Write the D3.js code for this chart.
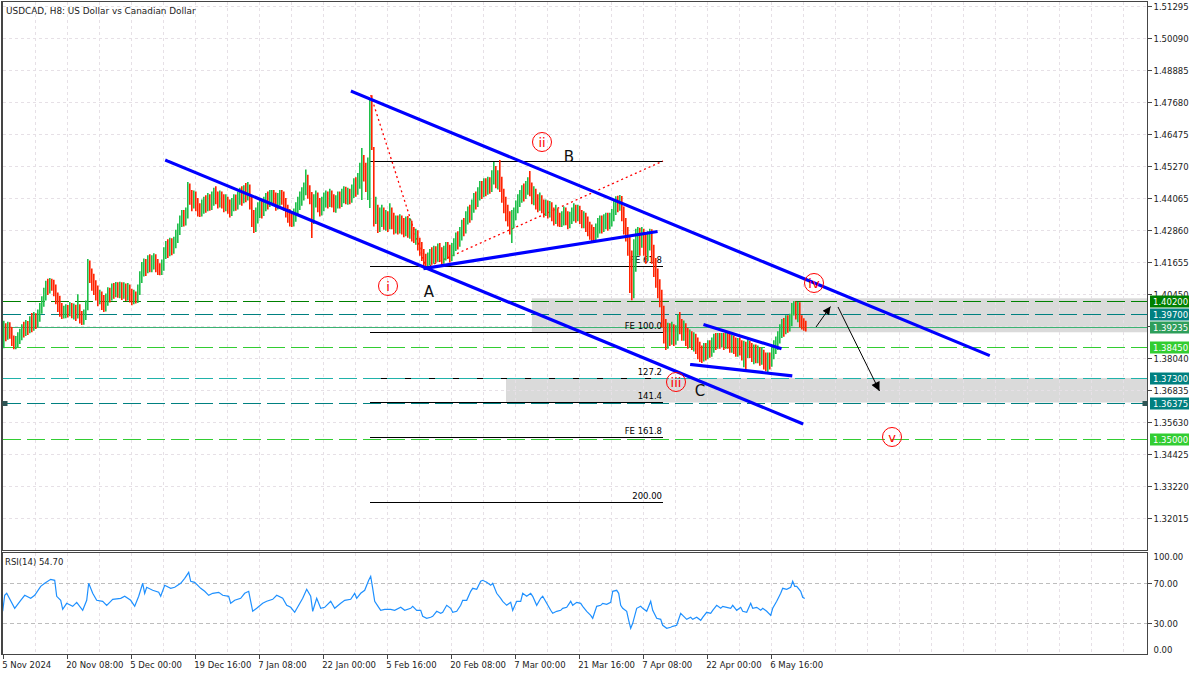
<!DOCTYPE html>
<html>
<head>
<meta charset="utf-8">
<script src="https://cdn.jsdelivr.net/npm/d3@7/dist/d3.min.js"></script>
<style>
html,body{margin:0;padding:0;background:#fff;}
svg{display:block;}
text{font-family:"DejaVu Sans",sans-serif;}
</style>
</head>
<body>
<svg id="chart" width="1200" height="675"></svg>
<script>
// ---------------- DATA ----------------
const title = "USDCAD, H8:  US Dollar vs Canadian Dollar";
const timeLabels = ["5 Nov 2024","20 Nov 08:00","5 Dec 00:00","19 Dec 16:00","7 Jan 08:00","22 Jan 00:00","5 Feb 16:00","20 Feb 08:00","7 Mar 00:00","21 Mar 16:00","7 Apr 08:00","22 Apr 00:00","6 May 16:00"];
const timeLabelBars = [0,32,64,96,128,160,192,224,256,288,320,352,384];
const priceTicks = [1.51295,1.50090,1.48885,1.47680,1.46475,1.45270,1.44065,1.42860,1.41655,1.40450,1.39245,1.38040,1.36835,1.35630,1.34425,1.33220,1.32015];
const rsiTicks = [100,70,30,0];
const rsiLevels = [70,30];
const rsiCurrent = 54.70;

const firstOpen = 1.3880;
const closes = [
1.3910,1.3895,1.3915,1.3900,1.3870,1.3850,1.3865,1.3880,1.3895,1.3910,
1.3905,1.3925,1.3915,1.3935,1.3925,1.3955,1.3940,1.3960,1.3990,1.4015,
1.4040,1.4075,1.4065,1.4090,1.4080,1.4060,1.4030,1.4000,1.3985,1.3965,
1.3975,1.3985,1.3980,1.3995,1.3980,1.3990,1.3970,1.3985,1.3960,1.3940,
1.3965,1.3990,1.4150,1.4120,1.4090,1.4070,1.4050,1.4030,1.4035,1.4010,
1.3995,1.4020,1.4045,1.4040,1.4060,1.4055,1.4075,1.4060,1.4070,1.4050,
1.4065,1.4045,1.4060,1.4040,1.4020,1.4035,1.4025,1.4060,1.4110,1.4140,
1.4150,1.4140,1.4165,1.4150,1.4165,1.4175,1.4155,1.4135,1.4125,1.4150,
1.4195,1.4215,1.4210,1.4230,1.4220,1.4240,1.4260,1.4290,1.4320,1.4335,
1.4325,1.4345,1.4440,1.4410,1.4390,1.4410,1.4385,1.4360,1.4350,1.4375,
1.4390,1.4380,1.4400,1.4385,1.4405,1.4420,1.4410,1.4395,1.4410,1.4400,
1.4380,1.4395,1.4375,1.4360,1.4380,1.4395,1.4385,1.4405,1.4420,1.4405,
1.4430,1.4420,1.4445,1.4390,1.4330,1.4305,1.4345,1.4360,1.4375,1.4355,
1.4385,1.4400,1.4390,1.4415,1.4425,1.4405,1.4385,1.4400,1.4420,1.4410,
1.4385,1.4360,1.4340,1.4320,1.4310,1.4340,1.4365,1.4390,1.4405,1.4420,
1.4440,1.4470,1.4430,1.4410,1.4330,1.4395,1.4410,1.4380,1.4365,1.4385,
1.4400,1.4410,1.4395,1.4415,1.4400,1.4380,1.4390,1.4405,1.4395,1.4415,
1.4425,1.4410,1.4420,1.4410,1.4430,1.4450,1.4440,1.4470,1.4490,1.4540,
1.4510,1.4490,1.4520,1.4760,1.4600,1.4340,1.4350,1.4310,1.4330,1.4345,
1.4320,1.4335,1.4310,1.4335,1.4320,1.4300,1.4315,1.4300,1.4320,1.4295,
1.4290,1.4310,1.4285,1.4295,1.4270,1.4250,1.4265,1.4235,1.4215,1.4195,
1.4170,1.4160,1.4175,1.4190,1.4180,1.4200,1.4190,1.4210,1.4195,1.4180,
1.4200,1.4215,1.4205,1.4190,1.4210,1.4230,1.4250,1.4240,1.4270,1.4300,
1.4290,1.4330,1.4350,1.4340,1.4375,1.4400,1.4390,1.4420,1.4445,1.4430,
1.4455,1.4440,1.4460,1.4450,1.4480,1.4510,1.4470,1.4480,1.4460,1.4420,
1.4380,1.4350,1.4330,1.4300,1.4320,1.4345,1.4370,1.4395,1.4410,1.4430,
1.4420,1.4445,1.4460,1.4440,1.4410,1.4420,1.4395,1.4380,1.4395,1.4375,
1.4360,1.4375,1.4355,1.4370,1.4350,1.4330,1.4345,1.4325,1.4310,1.4325,
1.4340,1.4330,1.4315,1.4330,1.4345,1.4360,1.4340,1.4350,1.4335,1.4320,
1.4330,1.4310,1.4290,1.4280,1.4265,1.4260,1.4285,1.4300,1.4315,1.4300,
1.4320,1.4325,1.4310,1.4325,1.4340,1.4370,1.4390,1.4385,1.4400,1.4350,
1.4300,1.4270,1.4250,1.4100,1.4060,1.4150,1.4230,1.4260,1.4240,1.4270,
1.4230,1.4200,1.4245,1.4270,1.4200,1.4150,1.4110,1.4070,1.4030,1.3960,
1.3900,1.3870,1.3905,1.3890,1.3910,1.3885,1.3900,1.3940,1.3925,1.3900,
1.3915,1.3890,1.3870,1.3885,1.3865,1.3875,1.3850,1.3835,1.3820,1.3810,
1.3835,1.3820,1.3840,1.3830,1.3855,1.3870,1.3860,1.3880,1.3870,1.3885,
1.3865,1.3880,1.3870,1.3850,1.3865,1.3850,1.3835,1.3855,1.3840,1.3825,
1.3840,1.3830,1.3850,1.3835,1.3815,1.3830,1.3815,1.3825,1.3805,1.3815,
1.3795,1.3785,1.3800,1.3790,1.3820,1.3845,1.3860,1.3880,1.3905,1.3925,
1.3915,1.3935,1.3925,1.3945,1.3990,1.4010,1.3975,1.3995,1.3940,1.3935,
1.3925,1.3922];
const highs = [
1.3945,1.3936,1.3942,1.3940,1.3922,1.3890,1.3888,1.3902,1.3915,1.3932,
1.3942,1.3948,1.3944,1.3962,1.3975,1.3978,1.3974,1.3988,1.4012,1.4038,
1.4070,1.4096,1.4104,1.4106,1.4104,1.4100,1.4082,1.4052,1.4040,1.4012,
1.4002,1.4008,1.4005,1.4016,1.4012,1.4010,1.4006,1.4045,1.4008,1.3982,
1.3988,1.4022,1.4178,1.4172,1.4142,1.4122,1.4098,1.4078,1.4062,1.4056,
1.4042,1.4048,1.4072,1.4070,1.4086,1.4088,1.4091,1.4090,1.4092,1.4090,
1.4090,1.4086,1.4088,1.4082,1.4066,1.4062,1.4056,1.4082,1.4132,1.4167,
1.4180,1.4178,1.4192,1.4196,1.4192,1.4200,1.4196,1.4178,1.4162,1.4176,
1.4222,1.4246,1.4252,1.4258,1.4256,1.4262,1.4288,1.4312,1.4342,1.4362,
1.4362,1.4372,1.4468,1.4462,1.4438,1.4436,1.4432,1.4408,1.4388,1.4402,
1.4412,1.4418,1.4426,1.4422,1.4432,1.4446,1.4452,1.4432,1.4436,1.4432,
1.4422,1.4422,1.4412,1.4402,1.4408,1.4422,1.4421,1.4432,1.4446,1.4452,
1.4456,1.4464,1.4468,1.4458,1.4412,1.4362,1.4372,1.4392,1.4402,1.4398,
1.4412,1.4426,1.4432,1.4438,1.4438,1.4438,1.4428,1.4426,1.4438,1.4438,
1.4432,1.4408,1.4382,1.4366,1.4352,1.4368,1.4392,1.4412,1.4432,1.4448,
1.4466,1.4515,1.4495,1.4456,1.4430,1.4422,1.4436,1.4428,1.4408,1.4412,
1.4428,1.4436,1.4432,1.4442,1.4436,1.4422,1.4418,1.4432,1.4432,1.4442,
1.4452,1.4450,1.4446,1.4442,1.4458,1.4482,1.4486,1.4502,1.4540,1.4596,
1.4570,1.4540,1.4560,1.4784,1.4795,1.4600,1.4412,1.4382,1.4372,1.4382,
1.4372,1.4362,1.4358,1.4388,1.4372,1.4352,1.4342,1.4342,1.4346,1.4342,
1.4332,1.4338,1.4340,1.4332,1.4322,1.4298,1.4292,1.4286,1.4258,1.4242,
1.4216,1.4198,1.4202,1.4216,1.4222,1.4228,1.4226,1.4236,1.4238,1.4222,
1.4228,1.4242,1.4242,1.4232,1.4238,1.4256,1.4278,1.4282,1.4298,1.4326,
1.4332,1.4358,1.4376,1.4382,1.4402,1.4426,1.4432,1.4448,1.4472,1.4472,
1.4482,1.4482,1.4488,1.4486,1.4512,1.4543,1.4528,1.4512,1.4551,1.4488,
1.4442,1.4412,1.4382,1.4358,1.4362,1.4372,1.4398,1.4422,1.4438,1.4456,
1.4462,1.4472,1.4486,1.4509,1.4466,1.4452,1.4442,1.4422,1.4428,1.4418,
1.4402,1.4402,1.4398,1.4396,1.4392,1.4372,1.4382,1.4368,1.4352,1.4358,
1.4376,1.4372,1.4358,1.4356,1.4372,1.4388,1.4382,1.4382,1.4378,1.4362,
1.4358,1.4352,1.4338,1.4318,1.4308,1.4298,1.4312,1.4332,1.4342,1.4342,
1.4346,1.4352,1.4352,1.4352,1.4366,1.4396,1.4414,1.4416,1.4419,1.4415,
1.4376,1.4332,1.4298,1.4265,1.4210,1.4252,1.4292,1.4298,1.4296,1.4298,
1.4292,1.4272,1.4282,1.4292,1.4290,1.4232,1.4182,1.4142,1.4102,1.4062,
1.4002,1.3952,1.3938,1.3936,1.3942,1.3932,1.3928,1.3970,1.3978,1.3952,
1.3946,1.3936,1.3918,1.3912,1.3906,1.3902,1.3896,1.3882,1.3866,1.3852,
1.3862,1.3862,1.3872,1.3872,1.3882,1.3896,1.3899,1.3899,1.3899,1.3899,
1.3899,1.3899,1.3899,1.3896,1.3892,1.3890,1.3882,1.3880,1.3882,1.3872,
1.3870,1.3866,1.3876,1.3870,1.3862,1.3856,1.3856,1.3852,1.3846,1.3846,
1.3836,1.3826,1.3826,1.3826,1.3846,1.3872,1.3886,1.3906,1.3932,1.3952,
1.3956,1.3966,1.3966,1.3972,1.4012,1.4020,1.4018,1.4016,1.4015,1.3966,
1.3955,1.3945];
const lows = [
1.3842,1.3868,1.3874,1.3878,1.3850,1.3838,1.3838,1.3846,1.3858,1.3872,
1.3882,1.3888,1.3892,1.3898,1.3902,1.3908,1.3914,1.3922,1.3942,1.3972,
1.3998,1.4022,1.4042,1.4048,1.4058,1.4038,1.4008,1.3978,1.3960,1.3952,
1.3954,1.3955,1.3958,1.3962,1.3955,1.3950,1.3944,1.3954,1.3935,1.3929,
1.3930,1.3948,1.3985,1.4088,1.4058,1.4042,1.4022,1.4000,1.4008,1.3986,
1.3978,1.3980,1.4002,1.4014,1.4022,1.4028,1.4034,1.4032,1.4030,1.4024,
1.4028,1.4020,1.4022,1.4014,1.4004,1.4008,1.4010,1.4012,1.4042,1.4088,
1.4112,1.4114,1.4124,1.4128,1.4128,1.4138,1.4128,1.4118,1.4117,1.4118,
1.4134,1.4178,1.4182,1.4188,1.4192,1.4198,1.4218,1.4238,1.4268,1.4298,
1.4300,1.4304,1.4330,1.4382,1.4358,1.4368,1.4358,1.4338,1.4336,1.4338,
1.4348,1.4352,1.4358,1.4360,1.4362,1.4378,1.4384,1.4368,1.4372,1.4368,
1.4354,1.4358,1.4348,1.4334,1.4340,1.4358,1.4360,1.4364,1.4382,1.4378,
1.4388,1.4392,1.4398,1.4364,1.4298,1.4276,1.4280,1.4312,1.4332,1.4330,
1.4340,1.4358,1.4364,1.4374,1.4388,1.4378,1.4360,1.4364,1.4378,1.4382,
1.4360,1.4334,1.4314,1.4300,1.4298,1.4300,1.4318,1.4344,1.4362,1.4378,
1.4398,1.4418,1.4405,1.4384,1.4257,1.4310,1.4372,1.4354,1.4338,1.4342,
1.4358,1.4372,1.4368,1.4374,1.4372,1.4354,1.4352,1.4368,1.4368,1.4374,
1.4388,1.4384,1.4382,1.4384,1.4390,1.4408,1.4412,1.4420,1.4442,1.4400,
1.4470,1.4430,1.4400,1.4370,1.4588,1.4300,1.4310,1.4276,1.4280,1.4298,
1.4288,1.4284,1.4280,1.4290,1.4290,1.4270,1.4274,1.4270,1.4274,1.4270,
1.4260,1.4264,1.4258,1.4254,1.4244,1.4238,1.4232,1.4210,1.4190,1.4170,
1.4150,1.4148,1.4150,1.4154,1.4156,1.4160,1.4164,1.4168,1.4170,1.4155,
1.4160,1.4172,1.4178,1.4165,1.4170,1.4188,1.4208,1.4214,1.4224,1.4248,
1.4264,1.4274,1.4308,1.4314,1.4324,1.4352,1.4364,1.4374,1.4398,1.4404,
1.4410,1.4414,1.4420,1.4424,1.4430,1.4458,1.4444,1.4440,1.4430,1.4390,
1.4350,1.4320,1.4300,1.4270,1.4238,1.4294,1.4324,1.4350,1.4374,1.4390,
1.4394,1.4404,1.4420,1.4414,1.4384,1.4380,1.4364,1.4354,1.4360,1.4350,
1.4334,1.4340,1.4330,1.4334,1.4320,1.4304,1.4310,1.4300,1.4298,1.4298,
1.4304,1.4305,1.4290,1.4294,1.4310,1.4320,1.4314,1.4320,1.4310,1.4294,
1.4294,1.4280,1.4264,1.4250,1.4244,1.4242,1.4244,1.4258,1.4274,1.4274,
1.4280,1.4290,1.4284,1.4290,1.4300,1.4320,1.4344,1.4354,1.4360,1.4320,
1.4270,1.4244,1.4190,1.4050,1.4023,1.4030,1.4130,1.4190,1.4190,1.4220,
1.4190,1.4160,1.4170,1.4210,1.4160,1.4110,1.4070,1.4030,1.3996,1.3920,
1.3860,1.3835,1.3840,1.3850,1.3855,1.3850,1.3855,1.3870,1.3895,1.3870,
1.3870,1.3850,1.3840,1.3845,1.3835,1.3830,1.3820,1.3800,1.3790,1.3786,
1.3792,1.3796,1.3800,1.3806,1.3810,1.3825,1.3835,1.3840,1.3840,1.3845,
1.3835,1.3840,1.3840,1.3825,1.3825,1.3820,1.3810,1.3810,1.3815,1.3796,
1.3770,1.3760,1.3805,1.3805,1.3790,1.3782,1.3785,1.3785,1.3776,1.3780,
1.3762,1.3755,1.3752,1.3762,1.3772,1.3800,1.3820,1.3835,1.3860,1.3880,
1.3885,1.3895,1.3900,1.3905,1.3925,1.3965,1.3950,1.3940,1.3920,1.3912,
1.3908,1.3905];

const rsiBars = [0,1,2,6,9,11,14,16,19,21,
 24,26,27,29,30,32,35,37,40,42,
 43,45,47,50,52,54,55,59,61,64,
 66,68,70,71,72,75,78,79,81,84,
 86,89,91,93,94,96,99,101,103,105,
 108,110,113,114,116,119,121,123,124,125,
 127,130,132,135,137,140,142,144,146,148,
 150,152,154,155,157,159,161,164,166,169,
 171,174,176,177,179,181,183,184,185,186,
 188,189,191,194,196,199,201,204,205,207,
 209,210,212,214,215,217,219,220,222,224,
 225,227,229,230,232,234,235,237,239,240,
 242,244,245,247,249,250,252,254,255,257,
 259,260,262,264,265,267,269,270,272,274,
 275,277,279,280,282,284,285,287,289,290,
 292,294,295,297,299,300,302,304,305,307,
 308,309,310,312,313,314,315,317,319,320,
 322,324,325,327,329,330,332,334,335,337,
 339,340,342,344,345,347,349,350,352,354,
 355,357,359,360,362,364,365,367,369,370,
 372,374,375,377,379,380,382,384,385,387,
 389,390,392,394,395,396,397,399,400,401];
const rsiValues = [42,58,60,45,53,58,55,58,67,70,
 74,73,57,53,44,50,47,51,43,53,
 70,60,53,52,48,52,54,55,57,53,
 47,57,70,60,66,63,61,57,68,65,
 66,70,75,81,72,71,65,62,58,60,
 61,58,57,50,53,55,60,62,52,42,
 45,50,52,54,58,55,48,46,41,48,
 55,64,57,42,55,45,46,52,45,50,
 53,54,60,55,60,63,73,77,65,52,
 46,43,44,44,43,46,43,45,47,43,
 43,37,35,36,37,42,40,41,48,45,
 41,42,48,53,53,62,65,64,72,73,
 71,68,70,60,55,52,48,51,43,52,
 52,60,57,60,57,48,55,57,50,43,
 40,42,43,45,46,52,48,51,50,47,
 42,38,35,47,48,50,49,51,62,63,
 60,48,45,42,33,25,30,45,47,45,
 42,52,43,35,34,28,25,26,27,28,
 40,38,34,36,34,36,33,36,41,40,
 43,48,45,47,46,45,48,43,46,42,
 41,50,45,46,43,45,42,38,45,52,
 60,65,64,66,72,67,67,62,56,54.7];

// horizontal price levels (right-axis tags)
const levelPrices = [1.40200,1.39700,1.39235,1.38450,1.37300,1.36375,1.35000];
// shaded zones
const zoneStartBars = [264.6,251.65];
const zoneTops = [1.40300,1.37300];
const zoneBottoms = [1.39020,1.36375];
// trend lines (bar index, price)
const trendStarts = [[174.85,1.48079],[82.0,1.45481],[211.15,1.41429],[351.15,1.39294],[344.5,1.37799]];
const trendEnds = [[492.8,1.38164],[399.5,1.35592],[326.65,1.42807],[388.65,1.38417],[394.0,1.37385]];
// fibonacci expansion
const fiboLevels = [1.4547,1.4152,1.3902,1.3730,1.3638,1.3506,1.3262];
const fiboLabels = ["","FE 61.8","FE 100.0","127.2","141.4","FE 161.8","200.00"];
const fiboFromBar = 183.65, fiboToBar = 330.15;
const fiboPoints = [[184.0,1.4795],[211.65,1.4146],[330.15,1.4547]];
// wave labels
const waveLabels = ["i","ii","iii","iv","v"];
const waveBars = [192.65,269.65,336.65,405.65,444.65];
const wavePrices = [1.40763,1.46185,1.37148,1.40876,1.35077];
const letterLabels = ["A","B","C"];
const letterBars = [213.15,283.15,348.65];
const letterPrices = [1.40537,1.45620,1.36809];
// arrows
const arrowStarts = [[406.65,1.39218],[417.65,1.39972]];
const arrowEnds = [[413.9,1.39990],[438.4,1.36809]];

// ---------------- STYLES ----------------
const levelStroke = ["#008000","#008080","#3cb371","#32cd32","#20b2aa","#008080","#32cd32"];
const levelTagFill = ["#008000","#008080","#2e9e5b","#32cd32","#008080","#008080","#32cd32"];
const levelSolid = [false,false,true,false,false,false,false];
const upColor = "#1fbf4a", downColor = "#ff2200";
const gridColor = "#e6e0e6";
const frameColor = "#454545";
const fs = "8.5px";

// ---------------- SCALES ----------------
const svg = d3.select("#chart");
const L = 2.5, R = 1147.5, mainT = 1.5, mainB = 550.5, rsiT = 552.5, rsiB = 654.5;
const x = d3.scaleLinear().domain([0, 572]).range([2.7, 2.7 + 2*572]);
const y = d3.scaleLinear().domain([1.32015, 1.51295]).range([518.3, 6.3]);
const yr = d3.scaleLinear().domain([0, 100]).range([653.3, 553.3]);
const px = v => Math.round(v) + 0.5;

svg.append("rect").attr("width",1200).attr("height",675).attr("fill","#fff");

const defs = svg.append("defs");
defs.append("clipPath").attr("id","clipMain").append("rect").attr("x",L).attr("y",mainT).attr("width",R-L).attr("height",mainB-mainT);
defs.append("clipPath").attr("id","clipRsi").append("rect").attr("x",L).attr("y",rsiT).attr("width",R-L).attr("height",rsiB-rsiT);
defs.append("marker").attr("id","ahSmall").attr("viewBox","0 0 10 10").attr("refX",10).attr("refY",5)
  .attr("markerUnits","userSpaceOnUse").attr("markerWidth",10).attr("markerHeight",8).attr("orient","auto")
  .append("path").attr("d","M0,0 L10,5 L0,10 Z").attr("fill","#000");
defs.append("marker").attr("id","ahBig").attr("viewBox","0 0 10 10").attr("refX",10).attr("refY",5)
  .attr("markerUnits","userSpaceOnUse").attr("markerWidth",12).attr("markerHeight",9).attr("orient","auto")
  .append("path").attr("d","M0,0 L10,5 L0,10 Z").attr("fill","#000");

const main = svg.append("g").attr("clip-path","url(#clipMain)");
const rsiG = svg.append("g").attr("clip-path","url(#clipRsi)");

// zones
main.selectAll(".zone").data(zoneStartBars).join("rect")
  .attr("x",d=>x(d)).attr("width",(d)=>R-x(d))
  .attr("y",(d,i)=>y(zoneTops[i])).attr("height",(d,i)=>y(zoneBottoms[i])-y(zoneTops[i]))
  .attr("fill","#dadada");

// grid
const gridBars = d3.range(16, 572, 16);
[main, rsiG].forEach((g,k)=>{
  g.selectAll(".vg").data(gridBars).join("line")
    .attr("x1",d=>px(x(d))).attr("x2",d=>px(x(d)))
    .attr("y1",k?rsiT:mainT).attr("y2",k?rsiB:mainB)
    .attr("stroke",gridColor).attr("stroke-dasharray","3,3").attr("shape-rendering","crispEdges");
});
main.selectAll(".hg").data(priceTicks).join("line")
  .attr("x1",L).attr("x2",R).attr("y1",d=>px(y(d))).attr("y2",d=>px(y(d)))
  .attr("stroke",gridColor).attr("stroke-dasharray","3,3").attr("shape-rendering","crispEdges");

// fibo lines (under level lines)
main.selectAll(".fibo").data(fiboLevels).join("line")
  .attr("x1",x(fiboFromBar)).attr("x2",x(fiboToBar))
  .attr("y1",d=>px(y(d))).attr("y2",d=>px(y(d)))
  .attr("stroke","#000").attr("stroke-width",1).attr("shape-rendering","crispEdges");

// level lines
main.selectAll(".lvl").data(levelPrices).join("line")
  .attr("x1",L).attr("x2",R).attr("y1",d=>px(y(d))).attr("y2",d=>px(y(d)))
  .attr("stroke",(d,i)=>levelStroke[i]).attr("stroke-width",1).attr("shape-rendering","crispEdges")
  .attr("stroke-dasharray",(d,i)=>levelSolid[i]?null:"18,6");

// fibo labels
main.selectAll(".fibot").data(fiboLevels).join("text")
  .attr("x",x(fiboToBar)-1).attr("y",d=>y(d)-3)
  .attr("text-anchor","end").attr("font-size",fs).attr("fill","#000")
  .text((d,i)=>fiboLabels[i]);

// red dotted fibo path
main.append("path").attr("d",d3.line().x(d=>x(d[0])).y(d=>y(d[1]))(fiboPoints))
  .attr("fill","none").attr("stroke","#ff0000").attr("stroke-width",1.3).attr("stroke-dasharray","2,3");

// price bars (high-low stems)
const opens = closes.map((c,i)=> i===0 ? firstOpen : closes[i-1]);
main.selectAll(".bar").data(closes).join("line")
  .attr("x1",(d,i)=>Math.round(x(i))+0.8).attr("x2",(d,i)=>Math.round(x(i))+0.8)
  .attr("y1",(d,i)=>y(Math.max(highs[i],opens[i],d))).attr("y2",(d,i)=>y(Math.min(lows[i],opens[i],d)))
  .attr("stroke",(d,i)=> d>=opens[i]?upColor:downColor).attr("stroke-width",1.6);

// trend lines
main.selectAll(".trend").data(trendStarts).join("line")
  .attr("x1",d=>x(d[0])).attr("y1",d=>y(d[1]))
  .attr("x2",(d,i)=>x(trendEnds[i][0])).attr("y2",(d,i)=>y(trendEnds[i][1]))
  .attr("stroke","#0000ff").attr("stroke-width",3.2).attr("stroke-linecap","square");

// wave circles
const wg = main.selectAll(".wave").data(waveLabels).join("g")
  .attr("transform",(d,i)=>`translate(${x(waveBars[i])},${y(wavePrices[i])})`);
wg.append("circle").attr("r",9.5).attr("fill","none").attr("stroke","#ff0000").attr("stroke-width",1);
wg.append("text").attr("text-anchor","middle").attr("dy","0.36em").attr("font-size","13px")
  .attr("fill","#ff0000").text(d=>d);

// letters
main.selectAll(".letter").data(letterLabels).join("text")
  .attr("x",(d,i)=>x(letterBars[i])).attr("y",(d,i)=>y(letterPrices[i]))
  .attr("dy","0.36em").attr("text-anchor","middle").attr("font-size","15px").attr("fill","#111").text(d=>d);

// arrows
main.selectAll(".arrow").data(arrowStarts).join("line")
  .attr("x1",d=>x(d[0])).attr("y1",d=>y(d[1]))
  .attr("x2",(d,i)=>x(arrowEnds[i][0])).attr("y2",(d,i)=>y(arrowEnds[i][1]))
  .attr("stroke","#000").attr("stroke-width",1)
  .attr("marker-end",(d,i)=> i===0?"url(#ahSmall)":"url(#ahBig)");

// ---- RSI ----
rsiG.selectAll(".rl").data(rsiLevels).join("line")
  .attr("x1",L).attr("x2",R).attr("y1",d=>px(yr(d))).attr("y2",d=>px(yr(d)))
  .attr("stroke","#bdbdbd").attr("stroke-dasharray","4,3").attr("shape-rendering","crispEdges");
rsiG.append("path").attr("d",d3.line().x(d=>x(d)).y((d,i)=>yr(rsiValues[i]))(rsiBars))
  .attr("fill","none").attr("stroke","#1e90ff").attr("stroke-width",1.2);
svg.append("text").attr("x",5).attr("y",565).attr("font-size",fs).attr("fill","#222")
  .text(`RSI(14) ${rsiCurrent.toFixed(2)}`);

// ---- frames ----
svg.append("rect").attr("x",L).attr("y",mainT).attr("width",R-L).attr("height",mainB-mainT)
  .attr("fill","none").attr("stroke",frameColor).attr("stroke-width",1).attr("shape-rendering","crispEdges");
svg.append("rect").attr("x",L).attr("y",rsiT).attr("width",R-L).attr("height",rsiB-rsiT)
  .attr("fill","none").attr("stroke",frameColor).attr("stroke-width",1).attr("shape-rendering","crispEdges");
svg.append("line").attr("x1",1.5).attr("x2",1.5).attr("y1",1).attr("y2",655).attr("stroke",frameColor).attr("stroke-width",1).attr("shape-rendering","crispEdges");

// ---- axes ----
function styleAxis(g){
  g.select(".domain").remove();
  g.selectAll(".tick line").attr("stroke",frameColor).attr("shape-rendering","crispEdges");
  g.selectAll(".tick text").attr("fill","#222").attr("font-size",fs).attr("font-family","DejaVu Sans");
}
const ay = svg.append("g").attr("transform",`translate(${R},0)`)
  .call(d3.axisRight(y).tickValues(priceTicks).tickSize(4).tickPadding(2).tickFormat(d3.format(".5f")));
styleAxis(ay);
const ayr = svg.append("g").attr("transform",`translate(${R},0)`)
  .call(d3.axisRight(yr).tickValues(rsiTicks).tickSize(4).tickPadding(2).tickFormat(d3.format(".2f")));
styleAxis(ayr);
ayr.selectAll(".tick").filter(d=>d===100).select("text").attr("dy","0.75em");
ayr.selectAll(".tick").filter(d=>d===0).select("text").attr("dy","-0.05em");
ayr.selectAll(".tick").filter(d=>d===100||d===0).select("line").remove();
const ax = svg.append("g").attr("transform",`translate(0,${rsiB})`)
  .call(d3.axisBottom(x).tickValues(timeLabelBars).tickSize(4).tickPadding(3).tickFormat((d,i)=>timeLabels[i]));
styleAxis(ax);
ax.selectAll(".tick text").attr("text-anchor","start").attr("dx","-1");

// level price tags
const tags = svg.selectAll(".tag").data(levelPrices).join("g")
  .attr("transform",d=>`translate(1150,${Math.round(y(d))})`);
tags.append("rect").attr("x",0).attr("y",-5.5).attr("width",39).attr("height",12)
  .attr("fill",(d,i)=>levelTagFill[i]);
tags.append("text").attr("x",3).attr("y",0.5).attr("dy","0.36em").attr("font-size",fs).attr("fill","#fff")
  .text(d=>d3.format(".5f")(d));

// small alert markers on 1.36375 level
svg.selectAll(".mk").data([L+2.5, R-2.5]).join("rect")
  .attr("x",d=>d-2.5).attr("y",Math.round(y(levelPrices[5]))-2).attr("width",5).attr("height",5)
  .attr("fill","#2f5555");

// title
svg.append("text").attr("x",6).attr("y",13.5).attr("font-size","8.9px").attr("fill","#222").text(title);
</script>
</body>
</html>
